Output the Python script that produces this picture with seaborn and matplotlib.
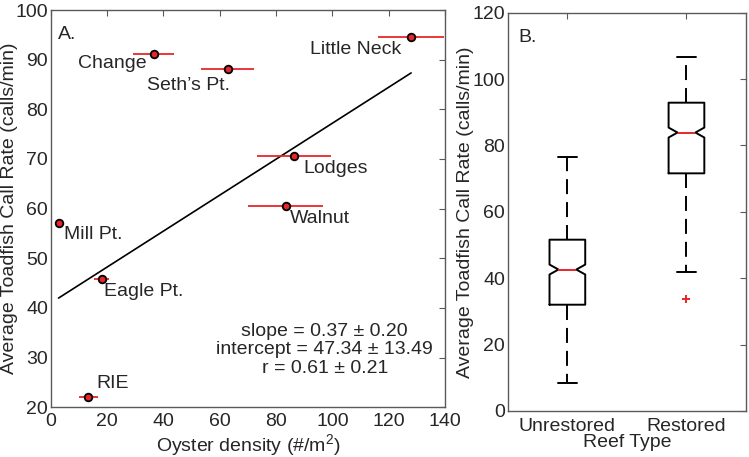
#!/usr/bin/env python3
"""
Toadfish call rate vs oyster density (A) and by reef type (B).
"""

import numpy as np
import pandas as pd
import matplotlib
matplotlib.use("Agg")
import matplotlib.pyplot as plt
import seaborn as sns

# panel A: site means with horizontal error bars on density
sites = ["Change", "Seth\u2019s Pt.", "Little Neck", "Lodges", "Walnut",
         "Mill Pt.", "Eagle Pt.", "RIE"]
density = [36.6, 62.8, 128.0, 86.4, 83.4, 2.7, 18.0, 13.3]
density_err = [7.3, 9.5, 11.8, 13.1, 13.3, 0.5, 2.7, 3.4]
call_rate = [91.1, 88.1, 94.5, 70.7, 60.6, 57.1, 45.8, 22.0]

# drawn regression line
fit_slope = 0.362
fit_intercept = 41.0
fit_text = "slope = 0.37 \u00b1 0.20\nintercept = 47.34 \u00b1 13.49\nr = 0.61 \u00b1 0.21"

# panel B: box summaries per reef type
reef_types = ["Unrestored", "Restored"]
whisker_low = [8.3, 42.0]
quart_low = [32.0, 71.6]
medians = [42.6, 83.9]
quart_high = [51.6, 92.9]
whisker_high = [76.4, 106.6]
notch_half = [1.5, 1.5]
outliers = [[], [33.7]]

# label placement (pixels from the marker)
label_pos = {
    "Change": (-7, -9, "right"),
    "Seth\u2019s Pt.": (2, -16, "right"),
    "Little Neck": (-10, -12, "right"),
    "Lodges": (9, -13, "left"),
    "Walnut": (4, -13, "left"),
    "Mill Pt.": (5, -11, "left"),
    "Eagle Pt.": (2, -12, "left"),
    "RIE": (8, 14, "left"),
}

sns.set_style("white")
plt.rcParams["font.family"] = ["Liberation Sans", "DejaVu Sans"]
plt.rcParams["font.size"] = 14
plt.rcParams["mathtext.fontset"] = "custom"
plt.rcParams["mathtext.rm"] = "Liberation Sans"
plt.rcParams["mathtext.it"] = "Liberation Sans"

spine_col = "#5a5a5a"


def style_axes(ax, xpad):
    for sp in ax.spines.values():
        sp.set_visible(True)
        sp.set_color(spine_col)
        sp.set_linewidth(1.0)
    ax.tick_params(direction="in", length=4, width=0.8, color=spine_col,
                   top=True, right=True, labelsize=14)
    ax.tick_params(axis="y", pad=2)
    ax.tick_params(axis="x", pad=xpad)


fig = plt.figure(figsize=(7.49, 4.57), dpi=100)
ax1 = fig.add_axes([0.068, 0.109, 0.526, 0.869])
ax2 = fig.add_axes([0.678, 0.101, 0.318, 0.871])

# ---- panel A
df = pd.DataFrame({"site": sites, "density": density,
                   "err": density_err, "rate": call_rate})
ax1.errorbar(df["density"], df["rate"], xerr=df["err"], fmt="none",
             ecolor="#e8262a", elinewidth=1.3, capsize=0, zorder=2)
sns.scatterplot(data=df, x="density", y="rate", ax=ax1, s=30,
                color="#e8262a", edgecolor="black", linewidth=1.3, zorder=3)

line_x = np.array([min(density), max(density)])
sns.lineplot(x=line_x, y=fit_intercept + fit_slope * line_x, ax=ax1,
             color="black", linewidth=1.2, zorder=1)

for name, x, y in zip(sites, density, call_rate):
    dx, dy, ha = label_pos[name]
    ax1.annotate(name, (x, y), xytext=(dx, dy), textcoords="offset pixels",
                 ha=ha, va="center", fontsize=14)

ax1.text(0.695, 0.144, fit_text, transform=ax1.transAxes, ha="center",
         va="center", multialignment="center", fontsize=14, linespacing=1.15)
ax1.text(0.018, 0.96, "A.", transform=ax1.transAxes, ha="left", va="top",
         fontsize=14)

ax1.set_xlim(0, 140)
ax1.set_ylim(20, 100)
ax1.set_xticks(range(0, 141, 20))
ax1.set_yticks(range(20, 101, 10))
ax1.set_xlabel("Oyster density (#/m$^{2}$)", fontsize=14)
ax1.set_ylabel("Average Toadfish Call Rate (calls/min)", fontsize=14)
style_axes(ax1, xpad=4)
ax1.yaxis.set_label_coords(-0.084, 0.5)
ax1.xaxis.set_label_coords(0.5, -0.062)

# ---- panel B
box_stats = []
for i in range(len(reef_types)):
    box_stats.append({
        "whislo": whisker_low[i], "q1": quart_low[i], "med": medians[i],
        "q3": quart_high[i], "whishi": whisker_high[i],
        "cilo": medians[i] - notch_half[i], "cihi": medians[i] + notch_half[i],
        "fliers": np.array(outliers[i]), "label": reef_types[i],
    })

long_df = pd.DataFrame({
    "reef": np.repeat(reef_types, 5),
    "rate": np.ravel(np.column_stack([whisker_low, quart_low, medians,
                                      quart_high, whisker_high])),
})

sns.boxplot(data=long_df, x="reef", y="rate", ax=ax2, fill=False,
            color="black", linewidth=1.4, width=0.3, notch=True,
            bxpstats=box_stats, capwidths=0.16,
            medianprops={"color": "#e8262a", "linewidth": 1.4},
            whiskerprops={"linestyle": (0, (7.7, 4.1))},
            flierprops={"marker": "+", "markeredgecolor": "#e8262a",
                        "markersize": 6, "markeredgewidth": 1.4})

ax2.text(0.045, 0.96, "B.", transform=ax2.transAxes, ha="left", va="top",
         fontsize=14)
ax2.set_xlim(-0.5, 1.5)
ax2.set_ylim(0, 120)
ax2.set_yticks(range(0, 121, 20))
ax2.set_xlabel("Reef Type", fontsize=14)
ax2.set_ylabel("Average Toadfish Call Rate (calls/min)", fontsize=14)
style_axes(ax2, xpad=5)
ax2.yaxis.set_label_coords(-0.142, 0.5)
ax2.xaxis.set_label_coords(0.5, -0.058)

fig.savefig("out.png", dpi=100)
plt.close(fig)
